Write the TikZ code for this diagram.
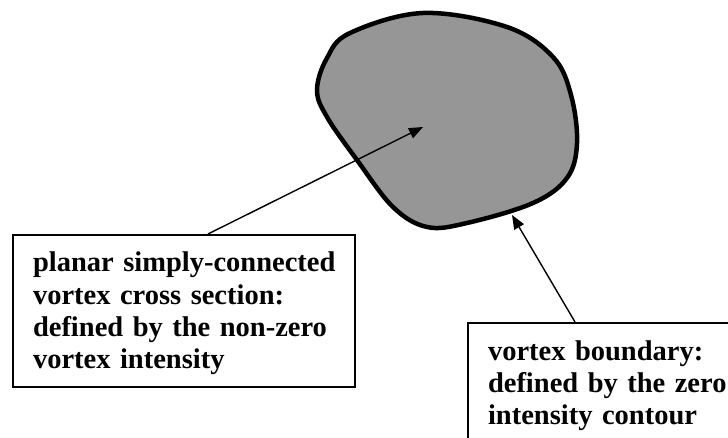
\documentclass[tikz,border=0pt]{standalone}
\usepackage{fontspec}
\setmainfont{Liberation Serif}
\usetikzlibrary{arrows.meta,calc}
\newcommand{\firststrut}{\rule{0pt}{24bp}}
\begin{document}
\begin{tikzpicture}[x=1bp,y=-1bp,
  blob/.style={draw=black,line width=4.5bp,fill={rgb,255:red,150;green,150;blue,150}},
  arr/.style={line width=1.4bp,-{Triangle[length=14bp,width=11bp]}},
  labelbox/.style={draw=black,line width=2bp,align=left,inner xsep=20bp,inner ysep=13bp,
    font=\fontsize{28.5bp}{32bp}\selectfont\bfseries}]
\useasboundingbox (0,0) rectangle (728,438);
\clip (0,0) rectangle (728,438);
\fill[white] (0,0) rectangle (728,438);
% blob
\draw[blob] plot[smooth cycle,tension=0.6] coordinates {
  (350,33) (423,13) (507,27) (553,57) (571,95) (577,143) (567,178)
  (533,203) (467,223) (427,227) (393,207) (357,160) (327,117) (317,90) (327,58)};
\coordinate (c) at (423,127);
\coordinate (bd) at (512,215);
% boxes
\node[labelbox,anchor=north west,text width=302bp] (b1) at (12,234)
  {\firststrut\mbox{planar simply-connected}\\\mbox{vortex cross section:}\\\mbox{defined by the non-zero}\\\mbox{vortex intensity}};
\node[labelbox,anchor=north west,text width=236bp] (b2) at (467,322)
  {\firststrut\mbox{vortex boundary:}\\\mbox{defined by the zero}\\\mbox{intensity contour}};
\coordinate (s1) at (208,234);
\coordinate (s2) at (575,322);
\draw[arr] (s1) -- (c);
\draw[arr] (s2) -- (bd);
\end{tikzpicture}
\end{document}
